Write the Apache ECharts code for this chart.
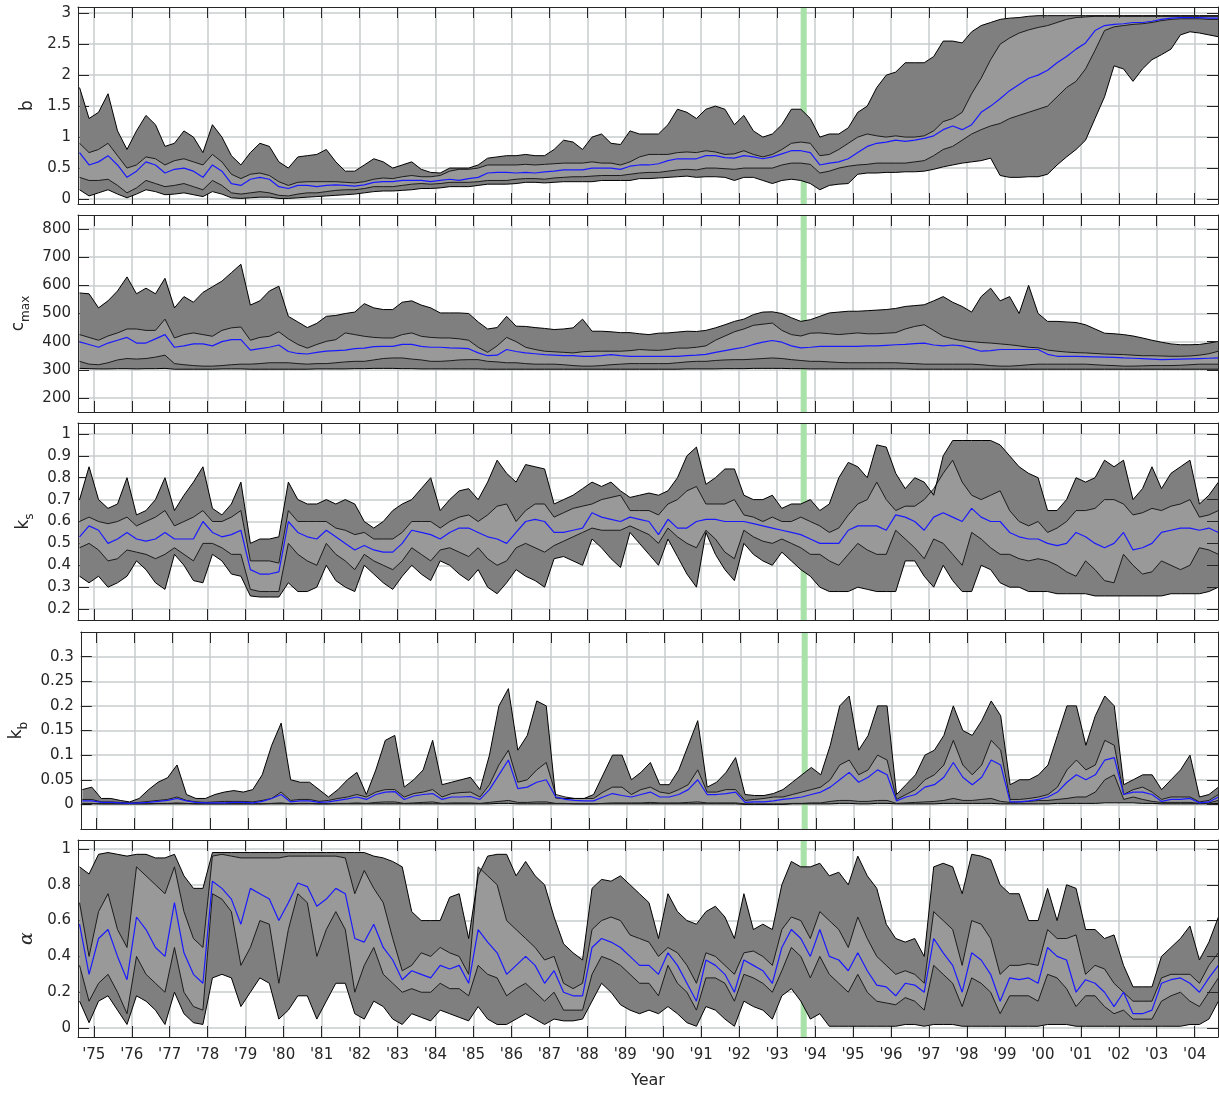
<!DOCTYPE html>
<html><head><meta charset="utf-8">
<script src="https://cdn.jsdelivr.net/npm/echarts@6/dist/echarts.min.js"></script>
<style>html,body{margin:0;padding:0;background:#fff}#c{width:1219px;height:1093px}</style>
</head><body><div id="c"></div>
<script>
// time sampling (quarterly, mid-quarter) 1974.625 .. 2004.625
const T0 = 1974.625, DT = 0.25;
const yearTicks = [1975,1976,1977,1978,1979,1980,1981,1982,1983,1984,1985,1986,1987,1988,1989,1990,1991,1992,1993,1994,1995,1996,1997,1998,1999,2000,2001,2002,2003,2004];
const eventSpan = [1993.62, 1993.78];

// ---------- b ----------
const b_ol = [0.15,0.05,
0.10,0.15,0.08,0.02, 0.08,0.15,0.12,0.07, 0.08,0.10,0.07,0.04, 0.12,0.08,0.02,0.01, 0.02,0.03,0.03,0.01,
0.01,0.02,0.03,0.04, 0.05,0.06,0.07,0.08, 0.10,0.12,0.13,0.13, 0.14,0.15,0.17,0.17, 0.18,0.20,0.20,0.20,
0.22,0.24,0.24,0.24, 0.25,0.27,0.27,0.26, 0.27,0.28,0.28,0.28, 0.28,0.30,0.30,0.30, 0.30,0.33,0.33,0.34,
0.35,0.36,0.37,0.35, 0.36,0.36,0.35,0.30, 0.35,0.35,0.30,0.25, 0.30,0.32,0.30,0.25, 0.15,0.22,0.24,0.25,
0.40,0.42,0.42,0.43, 0.43,0.44,0.44,0.45, 0.48,0.52,0.55,0.58, 0.60,0.62,0.66,0.38, 0.35,0.35,0.36,0.36,
0.40,0.55,0.68,0.80, 0.95,1.30,1.65,2.15, 2.10,1.90,2.10,2.25, 2.33,2.42,2.65,2.70, 2.68,2.65,2.62];
const b_il = [0.35,0.30,
0.30,0.32,0.22,0.10, 0.18,0.30,0.25,0.20, 0.22,0.25,0.20,0.15, 0.30,0.22,0.10,0.08, 0.10,0.12,0.10,0.06,
0.05,0.08,0.10,0.10, 0.12,0.14,0.15,0.15, 0.17,0.20,0.20,0.20, 0.22,0.24,0.25,0.24, 0.25,0.27,0.27,0.27,
0.28,0.30,0.30,0.30, 0.32,0.33,0.33,0.32, 0.34,0.35,0.36,0.36, 0.37,0.38,0.38,0.38, 0.40,0.42,0.43,0.43,
0.45,0.47,0.48,0.47, 0.50,0.50,0.49,0.48, 0.50,0.50,0.50,0.50, 0.55,0.58,0.58,0.56, 0.42,0.45,0.50,0.53,
0.55,0.56,0.58,0.58, 0.58,0.58,0.60,0.62, 0.70,0.80,0.85,0.95, 1.05,1.12,1.18,1.22, 1.30,1.35,1.40,1.45,
1.50,1.65,1.80,1.90, 2.10,2.40,2.72,2.78, 2.80,2.82,2.83,2.85, 2.88,2.90,2.91,2.91, 2.91,2.90,2.90];
const b_med = [0.75,0.55,
0.60,0.70,0.55,0.35, 0.45,0.60,0.55,0.42, 0.48,0.50,0.45,0.35, 0.55,0.45,0.25,0.22, 0.32,0.35,0.32,0.20,
0.17,0.22,0.22,0.20, 0.22,0.23,0.22,0.21, 0.23,0.27,0.28,0.28, 0.30,0.30,0.30,0.28, 0.30,0.32,0.30,0.33,
0.35,0.42,0.43,0.43, 0.42,0.43,0.42,0.44, 0.45,0.47,0.47,0.47, 0.50,0.50,0.50,0.48, 0.53,0.55,0.55,0.57,
0.62,0.65,0.65,0.65, 0.70,0.70,0.67,0.66, 0.70,0.68,0.65,0.68, 0.73,0.78,0.78,0.75, 0.55,0.58,0.60,0.65,
0.75,0.85,0.90,0.92, 0.95,0.93,0.95,0.98, 1.02,1.12,1.18,1.12, 1.20,1.40,1.50,1.62, 1.75,1.85,1.95,2.00,
2.08,2.20,2.30,2.42, 2.52,2.72,2.80,2.82, 2.83,2.85,2.85,2.87, 2.90,2.92,2.93,2.93, 2.93,2.92,2.92];
const b_ih = [0.90,0.75,
0.80,0.90,0.70,0.50, 0.55,0.68,0.65,0.55, 0.62,0.65,0.60,0.55, 0.72,0.60,0.40,0.33, 0.40,0.42,0.38,0.28,
0.22,0.27,0.28,0.28, 0.28,0.28,0.27,0.26, 0.28,0.32,0.34,0.33, 0.36,0.38,0.36,0.36, 0.38,0.45,0.48,0.48,
0.50,0.55,0.55,0.55, 0.55,0.56,0.55,0.56, 0.57,0.58,0.58,0.58, 0.60,0.58,0.58,0.55, 0.60,0.68,0.72,0.72,
0.72,0.75,0.76,0.75, 0.78,0.76,0.72,0.73, 0.78,0.72,0.68,0.72, 0.80,0.90,0.92,0.90, 0.70,0.72,0.80,0.90,
1.00,1.05,1.02,1.00, 1.02,1.00,1.00,1.02, 1.10,1.25,1.30,1.40, 1.70,1.95,2.25,2.50, 2.60,2.68,2.73,2.77,
2.80,2.85,2.90,2.93, 2.94,2.95,2.95,2.95, 2.95,2.95,2.95,2.95, 2.95,2.95,2.95,2.95, 2.95,2.95,2.95];
const b_oh = [1.80,1.30,
1.40,1.70,1.10,0.80, 1.10,1.35,1.20,0.85, 0.90,1.10,1.00,0.75, 1.20,1.00,0.70,0.55, 0.75,0.90,0.85,0.60,
0.50,0.68,0.70,0.72, 0.80,0.60,0.45,0.45, 0.55,0.65,0.60,0.50, 0.55,0.60,0.48,0.43, 0.42,0.50,0.50,0.50,
0.55,0.66,0.68,0.70, 0.70,0.72,0.70,0.70, 0.80,0.95,0.92,0.80, 1.00,1.05,0.90,0.88, 1.10,1.05,1.05,1.05,
1.20,1.45,1.40,1.30, 1.45,1.50,1.45,1.20, 1.35,1.10,1.00,1.05, 1.20,1.45,1.45,1.30, 1.00,1.05,1.05,1.15,
1.40,1.50,1.80,2.00, 2.05,2.20,2.20,2.20, 2.30,2.55,2.55,2.52, 2.70,2.80,2.85,2.90, 2.92,2.93,2.95,2.96,
2.96,2.96,2.96,2.96, 2.96,2.96,2.96,2.96, 2.96,2.96,2.96,2.96, 2.96,2.96,2.96,2.96, 2.96,2.96,2.96];

// ---------- c_max ----------
const c_ol = [305,304,
303,303,304,304, 303,304,304,305, 302,302,302,302, 302,303,303,303, 302,302,302,302,
302,302,302,303, 303,303,303,304, 304,305,305,305, 304,304,303,303, 303,303,303,303,
303,302,302,302, 302,302,302,302, 302,302,302,302, 302,302,302,302, 302,302,302,302,
302,302,303,303, 303,303,304,304, 304,305,305,305, 305,304,304,303, 303,303,303,303,
303,303,303,303, 303,303,302,302, 302,302,302,302, 302,302,302,302, 302,302,302,302,
302,302,302,302, 302,302,302,302, 302,302,302,302, 302,302,302,302, 302,302,302];
const c_il = [330,320,
318,325,335,340, 338,340,345,352, 322,318,315,313, 313,315,318,320, 320,322,325,325,
325,322,320,322, 322,325,328,330, 330,335,340,342, 342,338,335,330, 330,332,335,336,
336,330,328,325, 325,322,320,320, 320,318,315,313, 313,315,318,320, 322,322,322,322,
322,325,328,330, 330,333,335,336, 336,338,340,342, 340,336,333,330, 330,328,326,325,
325,325,325,325, 325,323,322,320, 320,320,320,320, 320,318,315,313, 313,315,318,320,
320,320,320,320, 320,318,316,315, 313,313,314,315, 315,315,316,318, 320,320,320];
const c_med = [399,390,
380,395,405,415, 395,395,410,425, 380,385,392,392, 385,400,407,407, 370,375,380,388,
365,358,356,362, 366,368,370,375, 377,382,383,383, 390,390,383,380, 380,378,377,375,
360,350,352,372, 365,360,357,354, 352,350,350,348, 348,350,354,350, 348,348,348,348,
348,348,350,352, 355,362,368,374, 380,390,398,404, 398,385,378,380, 383,383,383,383,
383,385,385,387, 389,390,393,395, 388,385,388,385, 375,366,368,372, 372,372,372,372,
355,348,348,348, 347,346,345,344, 342,341,340,338, 336,337,338,339, 340,341,342];
const c_ih = [425,415,
405,420,431,445, 445,440,440,480, 413,425,431,425, 419,440,449,452, 405,415,419,435,
410,390,377,390, 401,407,431,425, 419,415,413,413, 425,431,419,415, 413,413,410,405,
380,362,385,415, 400,380,372,366, 364,362,360,364, 366,366,366,366, 368,372,370,369,
372,377,377,380, 385,405,420,435, 445,458,462,466, 440,425,420,430, 431,428,425,428,
431,428,428,430, 432,445,454,460, 440,419,410,403, 400,397,395,392, 389,385,380,378,
370,366,363,361, 360,358,356,355, 354,352,350,350, 349,348,348,349, 352,357,366];
const c_oh = [573,570,
520,545,580,630, 570,590,570,625, 520,560,540,575, 595,615,645,675, 530,545,580,597,
490,470,450,465, 490,493,500,505, 535,520,514,514, 540,545,530,520, 502,502,502,500,
470,445,450,490, 455,454,450,447, 443,445,449,480, 437,437,435,432, 432,428,425,430,
431,434,437,436, 440,449,460,472, 480,496,505,506, 500,485,472,478, 490,502,505,508,
508,510,512,514, 518,525,528,531, 545,560,540,525, 505,560,590,545, 560,500,600,500,
472,472,470,468, 460,445,430,428, 425,420,413,405, 398,392,389,389, 390,395,401];

// ---------- k_s ----------
const ks_ol = [0.35,0.32,
0.35,0.30,0.32,0.35, 0.42,0.38,0.32,0.29, 0.45,0.40,0.33,0.32, 0.45,0.42,0.36,0.35, 0.26,0.255,0.255,0.255,
0.32,0.28,0.28,0.30, 0.40,0.33,0.30,0.28, 0.40,0.36,0.32,0.29, 0.35,0.40,0.36,0.33, 0.42,0.40,0.36,0.33,
0.38,0.30,0.27,0.32, 0.38,0.35,0.33,0.30, 0.43,0.44,0.42,0.40, 0.52,0.48,0.43,0.39, 0.55,0.50,0.45,0.40,
0.52,0.44,0.36,0.30, 0.55,0.45,0.38,0.33, 0.50,0.45,0.42,0.40, 0.46,0.42,0.38,0.35, 0.30,0.28,0.28,0.28,
0.30,0.29,0.28,0.28, 0.28,0.42,0.42,0.35, 0.30,0.40,0.33,0.28, 0.28,0.40,0.38,0.32, 0.30,0.30,0.28,0.28,
0.28,0.27,0.27,0.27, 0.27,0.26,0.26,0.26, 0.26,0.26,0.26,0.26, 0.26,0.27,0.27,0.27, 0.27,0.28,0.30];
const ks_il = [0.48,0.50,
0.47,0.42,0.43,0.47, 0.46,0.45,0.43,0.45, 0.48,0.45,0.42,0.50, 0.50,0.48,0.45,0.45, 0.29,0.28,0.28,0.28,
0.50,0.45,0.42,0.40, 0.50,0.45,0.42,0.38, 0.45,0.42,0.40,0.38, 0.42,0.48,0.45,0.42, 0.47,0.48,0.46,0.44,
0.48,0.43,0.40,0.42, 0.48,0.50,0.48,0.46, 0.49,0.51,0.53,0.55, 0.57,0.56,0.56,0.56, 0.58,0.56,0.54,0.50,
0.57,0.53,0.50,0.48, 0.56,0.52,0.46,0.43, 0.56,0.53,0.51,0.50, 0.52,0.50,0.48,0.45, 0.45,0.42,0.40,0.45,
0.50,0.47,0.45,0.45, 0.56,0.52,0.48,0.43, 0.52,0.50,0.45,0.40, 0.55,0.52,0.48,0.45, 0.45,0.43,0.42,0.43,
0.42,0.40,0.37,0.35, 0.42,0.38,0.33,0.32, 0.45,0.40,0.36,0.37, 0.42,0.40,0.38,0.40, 0.48,0.47,0.45];
const ks_med = [0.53,0.58,
0.56,0.50,0.52,0.55, 0.52,0.51,0.52,0.55, 0.52,0.52,0.52,0.60, 0.55,0.53,0.54,0.56, 0.38,0.36,0.36,0.37,
0.60,0.55,0.53,0.52, 0.56,0.53,0.50,0.47, 0.49,0.47,0.46,0.46, 0.50,0.56,0.55,0.54, 0.52,0.55,0.57,0.57,
0.55,0.53,0.52,0.50, 0.55,0.60,0.61,0.60, 0.55,0.55,0.56,0.57, 0.64,0.62,0.61,0.60, 0.62,0.61,0.60,0.54,
0.61,0.57,0.57,0.60, 0.61,0.61,0.60,0.60, 0.60,0.59,0.58,0.57, 0.56,0.55,0.54,0.52, 0.50,0.50,0.50,0.56,
0.58,0.58,0.58,0.56, 0.63,0.62,0.60,0.56, 0.62,0.64,0.62,0.60, 0.66,0.62,0.60,0.60, 0.55,0.53,0.52,0.52,
0.50,0.49,0.50,0.55, 0.53,0.50,0.48,0.50, 0.55,0.47,0.48,0.50, 0.55,0.56,0.57,0.57, 0.56,0.57,0.55];
const ks_ih = [0.60,0.62,
0.60,0.59,0.60,0.62, 0.58,0.60,0.62,0.65, 0.58,0.60,0.62,0.65, 0.60,0.60,0.62,0.65, 0.42,0.42,0.42,0.41,
0.65,0.60,0.60,0.60, 0.60,0.57,0.56,0.54, 0.55,0.52,0.52,0.52, 0.55,0.60,0.60,0.60, 0.57,0.60,0.62,0.63,
0.60,0.63,0.67,0.68, 0.60,0.65,0.68,0.68, 0.62,0.64,0.66,0.67, 0.68,0.70,0.71,0.72, 0.65,0.65,0.65,0.63,
0.68,0.70,0.74,0.76, 0.68,0.68,0.68,0.70, 0.63,0.62,0.60,0.62, 0.60,0.60,0.62,0.60, 0.58,0.55,0.57,0.63,
0.68,0.70,0.78,0.70, 0.65,0.67,0.67,0.70, 0.75,0.82,0.88,0.78, 0.72,0.70,0.72,0.74, 0.65,0.60,0.58,0.60,
0.55,0.57,0.60,0.65, 0.65,0.66,0.70,0.70, 0.68,0.63,0.64,0.66, 0.65,0.67,0.68,0.70, 0.62,0.63,0.65];
const ks_oh = [0.70,0.85,
0.70,0.66,0.68,0.80, 0.63,0.65,0.70,0.80, 0.65,0.72,0.78,0.85, 0.66,0.63,0.68,0.78, 0.50,0.52,0.52,0.53,
0.78,0.70,0.68,0.68, 0.70,0.68,0.70,0.68, 0.60,0.57,0.60,0.65, 0.68,0.70,0.75,0.80, 0.65,0.70,0.74,0.75,
0.70,0.78,0.88,0.82, 0.78,0.86,0.85,0.84, 0.68,0.70,0.72,0.75, 0.78,0.76,0.78,0.74, 0.71,0.72,0.73,0.72,
0.74,0.80,0.90,0.94, 0.77,0.80,0.84,0.84, 0.72,0.70,0.70,0.72, 0.66,0.68,0.68,0.70, 0.65,0.68,0.80,0.87,
0.85,0.80,0.95,0.94, 0.82,0.75,0.80,0.78, 0.72,0.90,0.97,0.97, 0.97,0.97,0.97,0.95, 0.90,0.85,0.82,0.80,
0.65,0.65,0.70,0.80, 0.78,0.80,0.88,0.85, 0.88,0.70,0.75,0.85, 0.75,0.82,0.85,0.88, 0.68,0.72,0.78];

// ---------- k_b ----------
const kb_ol = [0.001,0.001,
0.001,0.001,0.001,0.001, 0.001,0.001,0.001,0.001, 0.001,0.001,0.001,0.001, 0.001,0.001,0.001,0.001, 0.001,0.001,0.001,0.001,
0.001,0.001,0.001,0.001, 0.001,0.001,0.001,0.001, 0.001,0.001,0.001,0.001, 0.001,0.001,0.001,0.001, 0.001,0.001,0.001,0.001,
0.001,0.001,0.002,0.002, 0.001,0.001,0.001,0.001, 0.001,0.001,0.001,0.001, 0.001,0.001,0.001,0.001, 0.001,0.001,0.001,0.001,
0.001,0.001,0.001,0.001, 0.001,0.001,0.001,0.001, 0.000,0.000,0.000,0.000, 0.000,0.001,0.001,0.001, 0.001,0.001,0.002,0.002,
0.001,0.001,0.002,0.002, 0.001,0.001,0.001,0.001, 0.001,0.002,0.002,0.002, 0.002,0.002,0.002,0.001, 0.001,0.001,0.001,0.001,
0.001,0.002,0.002,0.002, 0.002,0.002,0.003,0.003, 0.003,0.003,0.002,0.002, 0.001,0.001,0.001,0.001, 0.001,0.001,0.002];
const kb_il = [0.002,0.002,
0.001,0.001,0.001,0.001, 0.001,0.001,0.002,0.002, 0.003,0.002,0.001,0.001, 0.001,0.001,0.001,0.001, 0.001,0.001,0.002,0.003,
0.001,0.002,0.002,0.001, 0.001,0.002,0.002,0.003, 0.002,0.004,0.005,0.005, 0.002,0.003,0.004,0.005, 0.002,0.003,0.003,0.003,
0.002,0.004,0.006,0.008, 0.004,0.004,0.005,0.005, 0.002,0.002,0.001,0.001, 0.001,0.002,0.003,0.003, 0.003,0.003,0.004,0.003,
0.003,0.003,0.004,0.005, 0.003,0.003,0.003,0.003, 0.001,0.001,0.001,0.001, 0.001,0.002,0.002,0.003, 0.003,0.006,0.008,0.008,
0.006,0.006,0.008,0.008, 0.002,0.003,0.004,0.005, 0.006,0.008,0.012,0.008, 0.008,0.010,0.012,0.006, 0.004,0.005,0.006,0.008,
0.008,0.010,0.012,0.015, 0.015,0.025,0.050,0.060, 0.010,0.015,0.010,0.006, 0.004,0.004,0.004,0.004, 0.002,0.003,0.008];
const kb_med = [0.007,0.007,
0.004,0.004,0.003,0.002, 0.003,0.004,0.006,0.008, 0.012,0.007,0.004,0.003, 0.003,0.003,0.004,0.004, 0.003,0.006,0.012,0.020,
0.005,0.007,0.007,0.004, 0.005,0.008,0.011,0.015, 0.010,0.020,0.025,0.026, 0.010,0.017,0.020,0.022, 0.010,0.015,0.015,0.016,
0.010,0.030,0.060,0.090, 0.032,0.035,0.045,0.050, 0.015,0.010,0.008,0.007, 0.007,0.015,0.022,0.018, 0.015,0.020,0.025,0.015,
0.015,0.020,0.030,0.050, 0.020,0.020,0.022,0.025, 0.004,0.005,0.005,0.007, 0.010,0.012,0.015,0.020, 0.025,0.035,0.050,0.065,
0.045,0.055,0.070,0.060, 0.007,0.015,0.020,0.035, 0.040,0.055,0.085,0.055, 0.040,0.055,0.090,0.080, 0.005,0.005,0.007,0.010,
0.015,0.025,0.045,0.060, 0.050,0.060,0.090,0.095, 0.020,0.025,0.025,0.020, 0.006,0.010,0.010,0.012, 0.003,0.005,0.015];
const kb_ih = [0.010,0.010,
0.005,0.005,0.004,0.003, 0.004,0.006,0.008,0.010, 0.015,0.008,0.005,0.004, 0.005,0.006,0.006,0.006, 0.005,0.008,0.012,0.025,
0.008,0.010,0.010,0.006, 0.008,0.012,0.015,0.020, 0.015,0.025,0.030,0.030, 0.015,0.022,0.025,0.030, 0.015,0.022,0.024,0.025,
0.015,0.040,0.080,0.110, 0.045,0.050,0.070,0.085, 0.020,0.015,0.012,0.012, 0.012,0.025,0.035,0.035, 0.020,0.030,0.035,0.025,
0.022,0.030,0.040,0.070, 0.025,0.025,0.030,0.030, 0.008,0.010,0.012,0.015, 0.015,0.020,0.025,0.030, 0.035,0.050,0.080,0.090,
0.060,0.070,0.100,0.090, 0.010,0.020,0.030,0.050, 0.060,0.080,0.130,0.080, 0.060,0.080,0.130,0.110, 0.010,0.010,0.012,0.015,
0.020,0.035,0.070,0.090, 0.070,0.080,0.130,0.120, 0.020,0.030,0.035,0.025, 0.010,0.015,0.015,0.015, 0.005,0.008,0.020];
const kb_oh = [0.030,0.035,
0.012,0.012,0.008,0.005, 0.012,0.030,0.045,0.054, 0.080,0.020,0.012,0.012, 0.020,0.025,0.028,0.025, 0.030,0.060,0.120,0.165,
0.050,0.045,0.045,0.030, 0.015,0.030,0.050,0.065, 0.020,0.070,0.130,0.140, 0.035,0.050,0.070,0.130, 0.040,0.045,0.050,0.055,
0.030,0.100,0.200,0.235, 0.110,0.140,0.210,0.200, 0.013,0.012,0.012,0.012, 0.020,0.060,0.100,0.100, 0.050,0.065,0.085,0.040,
0.040,0.070,0.120,0.170, 0.035,0.045,0.065,0.095, 0.020,0.018,0.018,0.022, 0.030,0.045,0.060,0.075, 0.060,0.120,0.200,0.220,
0.110,0.140,0.200,0.200, 0.020,0.040,0.060,0.100, 0.110,0.140,0.200,0.150, 0.140,0.170,0.210,0.180, 0.040,0.050,0.050,0.060,
0.080,0.140,0.200,0.200, 0.120,0.180,0.220,0.200, 0.040,0.050,0.060,0.060, 0.030,0.050,0.070,0.100, 0.015,0.020,0.035];

// ---------- alpha ----------
const a_ol = [0.15,0.03,
0.15,0.18,0.10,0.02, 0.18,0.15,0.10,0.02, 0.20,0.08,0.03,0.02, 0.28,0.30,0.28,0.12, 0.20,0.28,0.25,0.05,
0.10,0.18,0.18,0.05, 0.15,0.25,0.25,0.08, 0.05,0.15,0.12,0.05, 0.02,0.08,0.06,0.04, 0.10,0.08,0.06,0.04,
0.12,0.05,0.02,0.02, 0.05,0.08,0.05,0.02, 0.05,0.04,0.04,0.05, 0.15,0.25,0.20,0.13, 0.10,0.08,0.10,0.08,
0.12,0.08,0.03,0.01, 0.12,0.10,0.05,0.01, 0.15,0.12,0.10,0.05, 0.18,0.22,0.15,0.05, 0.08,0.01,0.01,0.01,
0.01,0.01,0.01,0.01, 0.01,0.02,0.02,0.01, 0.02,0.02,0.02,0.01, 0.01,0.01,0.01,0.01, 0.01,0.01,0.01,0.01,
0.02,0.02,0.02,0.01, 0.01,0.01,0.01,0.01, 0.01,0.01,0.01,0.01, 0.01,0.01,0.01,0.02, 0.02,0.05,0.15];
const a_il = [0.35,0.15,
0.25,0.30,0.20,0.08, 0.40,0.30,0.25,0.20, 0.45,0.20,0.12,0.10, 0.75,0.72,0.65,0.35, 0.45,0.60,0.58,0.25,
0.55,0.75,0.70,0.40, 0.55,0.65,0.55,0.20, 0.35,0.45,0.30,0.25, 0.20,0.22,0.20,0.20, 0.25,0.22,0.22,0.18,
0.35,0.30,0.28,0.18, 0.22,0.25,0.20,0.15, 0.20,0.10,0.10,0.10, 0.30,0.40,0.38,0.35, 0.30,0.25,0.25,0.18,
0.35,0.25,0.20,0.10, 0.28,0.28,0.25,0.15, 0.30,0.28,0.25,0.20, 0.32,0.45,0.40,0.28, 0.40,0.30,0.25,0.20,
0.30,0.20,0.15,0.14, 0.13,0.17,0.15,0.10, 0.35,0.30,0.25,0.12, 0.28,0.25,0.20,0.08, 0.18,0.18,0.18,0.15,
0.30,0.28,0.22,0.12, 0.18,0.18,0.12,0.08, 0.10,0.05,0.05,0.05, 0.15,0.18,0.20,0.15, 0.12,0.20,0.28];
const a_med = [0.58,0.30,
0.50,0.55,0.40,0.27, 0.62,0.55,0.45,0.40, 0.70,0.42,0.30,0.25, 0.82,0.78,0.72,0.58, 0.78,0.75,0.72,0.60,
0.70,0.81,0.79,0.68, 0.72,0.78,0.75,0.50, 0.48,0.58,0.45,0.38, 0.27,0.32,0.30,0.28, 0.35,0.33,0.35,0.25,
0.55,0.48,0.42,0.30, 0.35,0.40,0.35,0.25, 0.32,0.20,0.18,0.18, 0.45,0.50,0.48,0.45, 0.40,0.35,0.35,0.30,
0.42,0.35,0.25,0.15, 0.38,0.35,0.30,0.20, 0.38,0.35,0.32,0.25, 0.45,0.55,0.50,0.40, 0.55,0.40,0.38,0.32,
0.42,0.32,0.24,0.23, 0.18,0.25,0.24,0.20, 0.50,0.42,0.35,0.20, 0.42,0.38,0.30,0.15, 0.28,0.27,0.28,0.25,
0.45,0.40,0.38,0.20, 0.27,0.25,0.20,0.12, 0.20,0.08,0.08,0.10, 0.25,0.27,0.28,0.25, 0.20,0.28,0.35];
const a_ih = [0.70,0.40,
0.65,0.75,0.55,0.45, 0.90,0.85,0.80,0.75, 0.90,0.65,0.50,0.45, 0.96,0.97,0.96,0.95, 0.95,0.95,0.95,0.95,
0.96,0.96,0.96,0.96, 0.96,0.96,0.95,0.75, 0.88,0.78,0.70,0.50, 0.32,0.35,0.42,0.40, 0.45,0.42,0.40,0.30,
0.90,0.85,0.80,0.60, 0.55,0.50,0.45,0.38, 0.40,0.25,0.22,0.25, 0.55,0.60,0.62,0.60, 0.52,0.50,0.48,0.40,
0.45,0.42,0.35,0.25, 0.42,0.40,0.35,0.30, 0.42,0.43,0.40,0.35, 0.55,0.62,0.60,0.50, 0.65,0.60,0.55,0.45,
0.62,0.50,0.40,0.35, 0.30,0.32,0.30,0.25, 0.65,0.60,0.55,0.35, 0.60,0.58,0.50,0.30, 0.35,0.35,0.36,0.35,
0.55,0.50,0.50,0.52, 0.30,0.35,0.33,0.25, 0.20,0.15,0.15,0.15, 0.28,0.30,0.30,0.30, 0.25,0.35,0.42];
const a_oh = [0.90,0.86,
0.97,0.98,0.97,0.96, 0.97,0.97,0.95,0.95, 0.97,0.85,0.78,0.78, 0.98,0.98,0.98,0.98, 0.98,0.98,0.98,0.98,
0.98,0.98,0.98,0.98, 0.98,0.98,0.98,0.98, 0.98,0.96,0.95,0.93, 0.90,0.65,0.60,0.60, 0.60,0.73,0.75,0.50,
0.85,0.96,0.97,0.97, 0.85,0.93,0.85,0.80, 0.62,0.47,0.42,0.38, 0.78,0.83,0.82,0.85, 0.80,0.75,0.70,0.50,
0.75,0.65,0.60,0.58, 0.65,0.68,0.62,0.50, 0.75,0.55,0.58,0.55, 0.80,0.93,0.90,0.90, 0.92,0.85,0.87,0.80,
0.96,0.85,0.78,0.58, 0.50,0.48,0.50,0.40, 0.90,0.92,0.90,0.75, 0.97,0.96,0.94,0.80, 0.75,0.75,0.60,0.60,
0.78,0.60,0.80,0.78, 0.55,0.55,0.50,0.52, 0.35,0.23,0.23,0.23, 0.40,0.45,0.50,0.57, 0.38,0.48,0.62];

// ---------- panel definitions ----------
const panels = [
  {label:'b', ol:b_ol, il:b_il, med:b_med, ih:b_ih, oh:b_oh, min:-0.08, max:3.1, ticks:[0,0.5,1,1.5,2,2.5,3]},
  {label:'{m|c}{s|max}', ol:c_ol, il:c_il, med:c_med, ih:c_ih, oh:c_oh, min:150, max:850, ticks:[200,300,400,500,600,700,800]},
  {label:'{m|k}{s|s}', ol:ks_ol, il:ks_il, med:ks_med, ih:ks_ih, oh:ks_oh, min:0.15, max:1.05, ticks:[0.2,0.3,0.4,0.5,0.6,0.7,0.8,0.9,1]},
  {label:'{m|k}{s|b}', ol:kb_ol, il:kb_il, med:kb_med, ih:kb_ih, oh:kb_oh, min:-0.05, max:0.35, ticks:[0,0.05,0.1,0.15,0.2,0.25,0.3]},
  {label:'{a|α}', ol:a_ol, il:a_il, med:a_med, ih:a_ih, oh:a_oh, min:-0.05, max:1.05, ticks:[0,0.2,0.4,0.6,0.8,1]}
];

const XMIN = 1974.584, XMAX = 2004.614;
const TOPS = [7, 215, 423, 632, 840], H = 197, LEFT = 78, W = 1140;
const TXT = '#262626', GRIDC = '#c8cccc', DARK = '#7f7f7f', LIGHT = '#999999';
const FONT = 'DejaVu Sans';

const tOf = i => T0 + i * DT;
const xy = arr => arr.map((v, i) => [tOf(i), v]);

// filled band between two boundary series, drawn as one polygon through the axis scales
function bandSeries(k, lo, hi, color, z) {
  return {
    type: 'custom', xAxisIndex: 2 * k, yAxisIndex: 2 * k, z: z, silent: true, clip: true, animation: false,
    data: lo.map((v, i) => [tOf(i), v, hi[i]]),
    encode: {x: 0, y: [1, 2]},
    renderItem: function (params, api) {
      if (params.dataIndex !== 0) return null;
      const pts = [];
      for (let i = 0; i < hi.length; i++) pts.push(api.coord([tOf(i), hi[i]]));
      for (let i = lo.length - 1; i >= 0; i--) pts.push(api.coord([tOf(i), lo[i]]));
      return {type: 'polygon', shape: {points: pts}, style: {fill: color, stroke: null}};
    }
  };
}

const grid = [], xAxis = [], yAxis = [], series = [];
panels.forEach((p, k) => {
  grid.push({left: LEFT, top: TOPS[k], width: W, height: H});
  const last = k === panels.length - 1;
  xAxis.push({
    type: 'value', gridIndex: k, min: XMIN, max: XMAX, position: 'bottom',
    axisLine: {show: true, onZero: false, lineStyle: {color: TXT, width: 1}},
    axisTick: {show: true, inside: true, length: 11, customValues: yearTicks, lineStyle: {color: TXT}},
    axisLabel: {show: last, customValues: yearTicks, formatter: v => "'" + String(v).slice(2),
      color: TXT, fontFamily: FONT, fontSize: 15, margin: 11},
    splitLine: {show: true, lineStyle: {color: GRIDC, width: 1.5}},
    name: last ? 'Year' : '', nameLocation: 'middle', nameGap: 36,
    nameTextStyle: {color: TXT, fontFamily: FONT, fontSize: 16}
  });
  xAxis.push({
    type: 'value', gridIndex: k, min: XMIN, max: XMAX, position: 'top', z: 5,
    axisLine: {show: true, onZero: false, lineStyle: {color: TXT, width: 1}},
    axisTick: {show: true, inside: true, length: 11, customValues: yearTicks, lineStyle: {color: TXT}},
    axisLabel: {show: false}, splitLine: {show: false}
  });
  yAxis.push({
    type: 'value', gridIndex: k, min: p.min, max: p.max, position: 'left',
    axisLine: {show: true, onZero: false, lineStyle: {color: TXT, width: 1}},
    axisTick: {show: true, inside: true, length: 11, customValues: p.ticks, lineStyle: {color: TXT}},
    axisLabel: {show: true, customValues: p.ticks, color: TXT, fontFamily: FONT, fontSize: 15, margin: 7},
    splitLine: {show: true, lineStyle: {color: GRIDC, width: 1.5}},
    name: p.label, nameLocation: 'middle', nameRotate: 90, nameGap: k === 3 ? 36 : 40,
    nameTextStyle: {color: TXT, fontFamily: FONT, fontSize: 17,
      rich: {
        m: {fontSize: 17, color: TXT, fontFamily: FONT, lineHeight: 26, verticalAlign: 'middle'},
        s: {fontSize: 12, color: TXT, fontFamily: FONT, lineHeight: 14, verticalAlign: 'bottom'},
        a: {fontSize: 19, color: TXT, fontFamily: 'DejaVu Serif', fontStyle: 'italic'}
      }}
  });
  yAxis.push({
    type: 'value', gridIndex: k, min: p.min, max: p.max, position: 'right', z: 5,
    axisLine: {show: true, onZero: false, lineStyle: {color: TXT, width: 1}},
    axisTick: {show: true, inside: true, length: 11, customValues: p.ticks, lineStyle: {color: TXT}},
    axisLabel: {show: false}, splitLine: {show: false}
  });
  const common = {type: 'line', xAxisIndex: 2 * k, yAxisIndex: 2 * k, symbol: 'none', silent: true, animation: false};
  // event marker (drawn beneath the bands)
  series.push(Object.assign({}, common, {
    data: xy(p.ol), lineStyle: {opacity: 0}, z: 1,
    markArea: {silent: true, itemStyle: {color: '#a8e2a8', opacity: 1},
      data: [[{xAxis: eventSpan[0]}, {xAxis: eventSpan[1]}]]}
  }));
  series.push(bandSeries(k, p.ol, p.oh, DARK, 2));
  series.push(bandSeries(k, p.il, p.ih, LIGHT, 2));
  [[p.ol, '#000', 1], [p.il, '#1c1c1c', 1], [p.ih, '#1c1c1c', 1], [p.oh, '#000', 1]].forEach(([arr, c, w]) => {
    series.push(Object.assign({}, common, {data: xy(arr), lineStyle: {color: c, width: w}, z: 3}));
  });
  series.push(Object.assign({}, common, {data: xy(p.med), lineStyle: {color: '#1a1aff', width: 1.2}, z: 4}));
});

const chart = echarts.init(document.getElementById('c'), null, {renderer: 'canvas'});
chart.setOption({animation: false, backgroundColor: '#fff', grid, xAxis, yAxis, series});
</script></body></html>
